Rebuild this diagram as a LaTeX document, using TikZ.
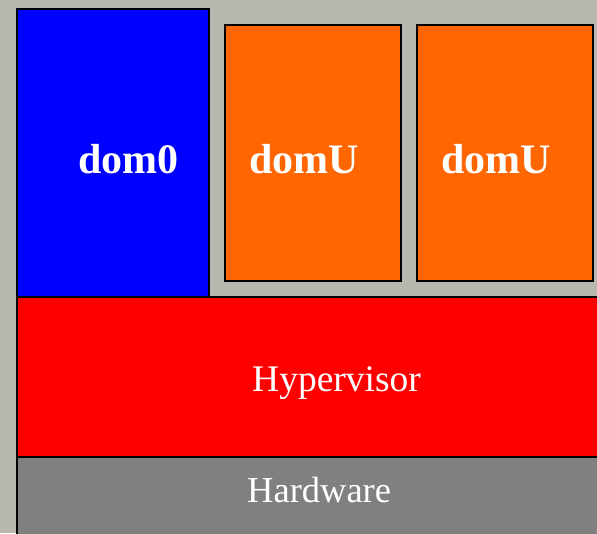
\documentclass[tikz,border=0pt]{standalone}
\usepackage{fontspec}
\setmainfont{Liberation Serif}
\definecolor{bgc}{RGB}{184,184,176}
\definecolor{domblue}{RGB}{0,0,255}
\definecolor{domorange}{RGB}{255,102,0}
\definecolor{hypred}{RGB}{255,0,0}
\definecolor{hwgray}{RGB}{128,128,128}
\tikzset{
  layer/.style={draw=black, line width=2pt},
  bigbold/.style={text=white, font=\fontsize{42}{48}\selectfont\bfseries, inner sep=0pt, anchor=base west},
  plainlbl/.style={text=white, inner sep=0pt, anchor=base west}
}
\begin{document}
\begin{tikzpicture}[x=1pt,y=-1pt]
\useasboundingbox (0,0) rectangle (597,533);
\fill[bgc] (0,0) rectangle (597,533);
\clip (0,0) rectangle (597,533);
\draw[layer, fill=hwgray] (17,457) rectangle (620,560);
\draw[layer, fill=hypred] (17,297) rectangle (620,457);
\draw[layer, fill=domblue] (17,9) rectangle (209,297);
\draw[layer, fill=domorange] (225,25) rectangle (401,281);
\draw[layer, fill=domorange] (417,25) rectangle (593,281);
\node[bigbold] (d0) at (78,173) {dom0};
\node[bigbold] (du1) at (249,173) {domU};
\node[bigbold] (du2) at (441,173) {domU};
\node[plainlbl, font=\fontsize{37.5}{44}\selectfont] (hv) at (252,391) {Hypervisor};
\node[plainlbl, font=\fontsize{36.5}{42}\selectfont] (hw) at (247,502) {Hardware};
\end{tikzpicture}
\end{document}
